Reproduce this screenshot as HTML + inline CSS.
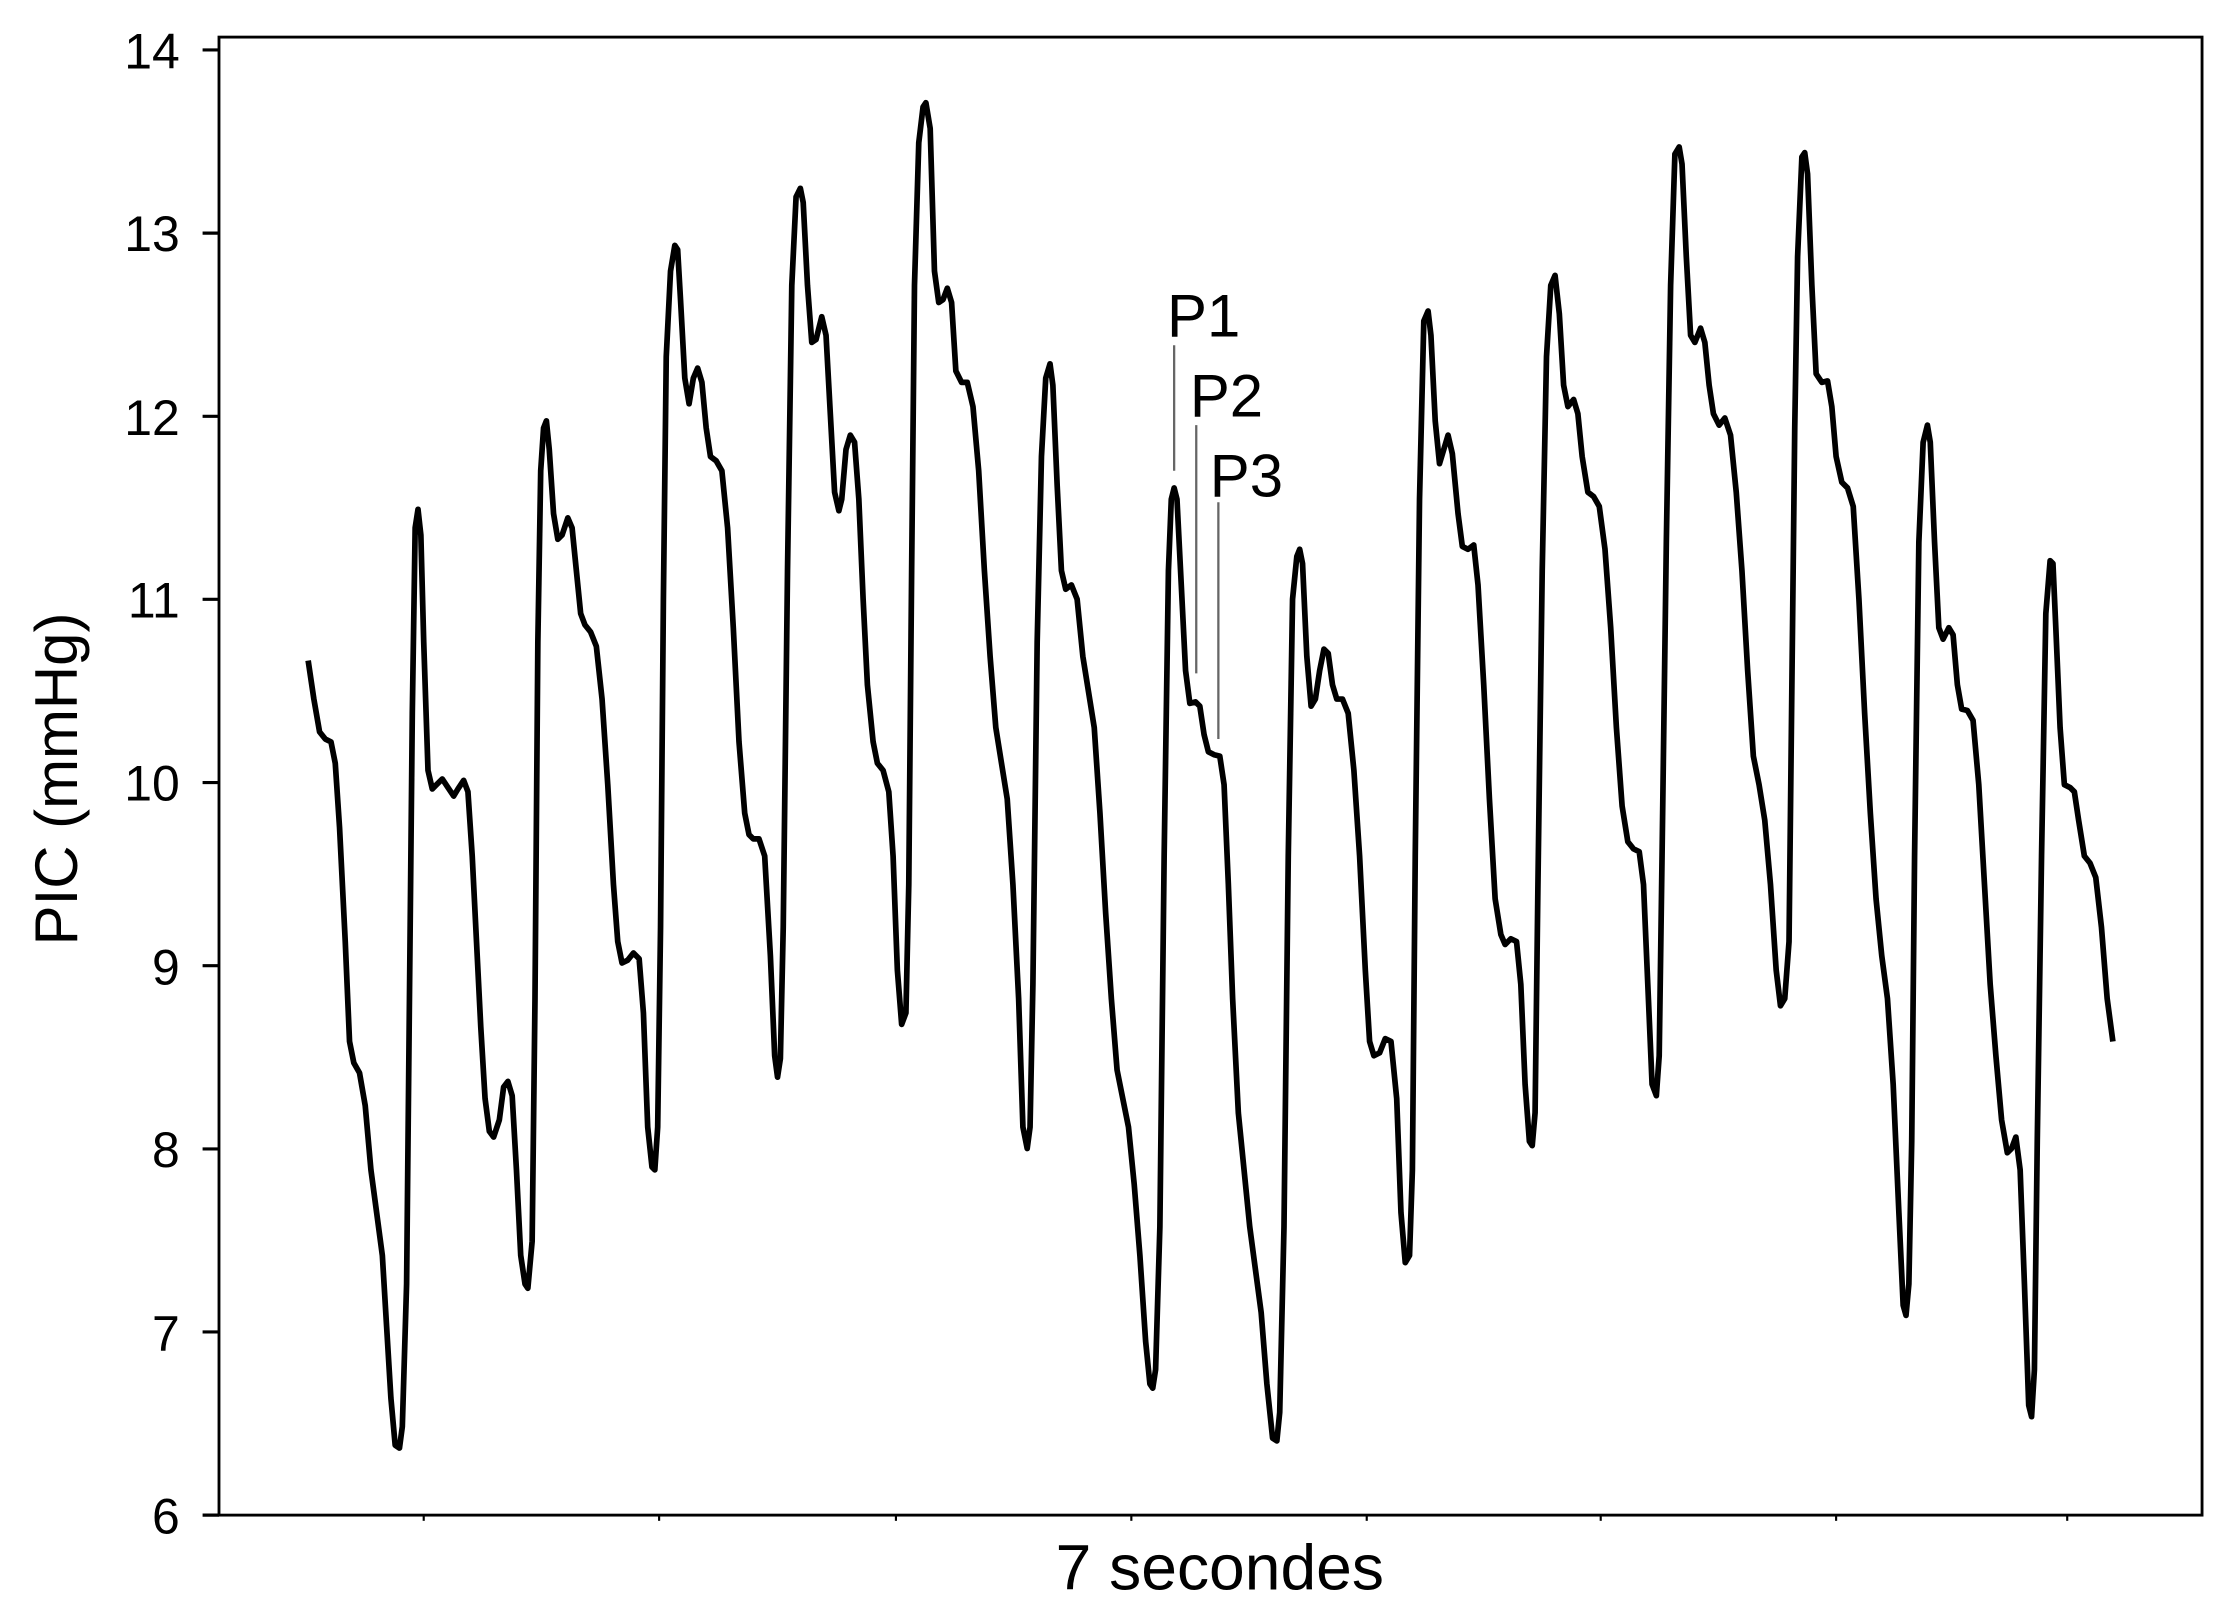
<!DOCTYPE html>
<html><head><meta charset="utf-8"><style>
html,body{margin:0;padding:0;background:#fff;}
svg{display:block;}
text{font-family:"Liberation Sans","DejaVu Sans",sans-serif;fill:#000;}
</style></head><body>
<svg width="2237" height="1609" viewBox="0 0 1568 1127.8" xmlns="http://www.w3.org/2000/svg">
<rect x="0" y="0" width="1568" height="1127.8" fill="#fff"/>
<rect x="153.5" y="26" width="1390" height="1036" fill="none" stroke="#000" stroke-width="2"/>
<g stroke="#000" stroke-width="2.2">
<line x1="142" y1="35" x2="153.5" y2="35"/>
<line x1="142" y1="163.4" x2="153.5" y2="163.4"/>
<line x1="142" y1="291.8" x2="153.5" y2="291.8"/>
<line x1="142" y1="420.1" x2="153.5" y2="420.1"/>
<line x1="142" y1="548.5" x2="153.5" y2="548.5"/>
<line x1="142" y1="676.9" x2="153.5" y2="676.9"/>
<line x1="142" y1="805.3" x2="153.5" y2="805.3"/>
<line x1="142" y1="933.6" x2="153.5" y2="933.6"/>
<line x1="142" y1="1062" x2="153.5" y2="1062"/>
</g>
<g stroke="#000" stroke-width="1.5">
<line x1="297" y1="1062" x2="297" y2="1066"/>
<line x1="462" y1="1062" x2="462" y2="1066"/>
<line x1="628" y1="1062" x2="628" y2="1066"/>
<line x1="793" y1="1062" x2="793" y2="1066"/>
<line x1="958" y1="1062" x2="958" y2="1066"/>
<line x1="1122" y1="1062" x2="1122" y2="1066"/>
<line x1="1287" y1="1062" x2="1287" y2="1066"/>
<line x1="1449" y1="1062" x2="1449" y2="1066"/>
</g>
<g font-size="37" text-anchor="end" font-family="DejaVu Sans, sans-serif" style="font-family:'DejaVu Sans',sans-serif;font-size:35px">
<text x="126" y="48">14</text>
<text x="126" y="176">13</text>
<text x="126" y="305">12</text>
<text x="126" y="433">11</text>
<text x="126" y="561">10</text>
<text x="126" y="690">9</text>
<text x="126" y="818">8</text>
<text x="126" y="947">7</text>
<text x="126" y="1075">6</text>
</g>
<text x="855" y="1114" font-size="45" text-anchor="middle">7 secondes</text>
<text transform="translate(54,546) rotate(-90)" font-size="42" text-anchor="middle">PIC (mmHg)</text>
<g stroke="#666" stroke-width="1.6">
<line x1="823" y1="242" x2="823" y2="330"/>
<line x1="838.5" y1="298" x2="838.5" y2="472"/>
<line x1="854" y1="352" x2="854" y2="518"/>
</g>
<g font-size="42">
<text x="818" y="236">P1</text>
<text x="834" y="292">P2</text>
<text x="848" y="348">P3</text>
</g>
<polyline fill="none" stroke="#000" stroke-width="4" stroke-linejoin="round" stroke-linecap="butt" points="216,463 220,490 224,513 228,518 232,520 235,535 238,580 242,660 245,730 248,745 252,752 256,775 260,820 264,850 268,880 271,930 274,980 277,1013 280,1015 282,1000 285,900 287,700 289,500 291,370 293,357 295,375 297,450 300,540 303,553 306,550 310,546 314,552 318,558 321,553 325,547 328,555 331,600 334,660 337,720 340,770 343,793 346,797 350,785 353,762 356,758 359,768 362,820 365,880 368,900 370,903 373,870 375,700 377,450 379,330 381,300 383,295 385,315 388,360 391,378 394,375 398,363 401,370 404,400 407,430 410,438 414,443 418,453 422,490 426,550 430,620 433,660 436,675 440,673 444,668 448,672 451,710 454,790 457,818 459,820 461,790 463,650 465,420 467,250 470,190 473,172 475,175 477,210 480,265 483,283 486,265 489,258 492,268 495,300 498,320 502,323 506,330 510,370 514,440 518,520 522,570 525,585 528,588 532,588 536,600 540,670 543,740 545,755 547,742 549,650 552,400 555,200 558,138 561,132 563,142 566,200 569,240 572,238 576,222 579,235 582,290 585,345 588,358 590,350 593,315 596,305 599,310 602,350 605,420 608,480 612,520 615,535 619,540 623,555 626,600 629,680 632,718 635,710 637,620 639,400 641,200 644,100 647,75 649,72 652,90 655,190 658,212 661,210 664,202 667,212 670,260 674,268 678,268 682,285 686,330 690,400 694,460 698,510 702,535 706,560 710,620 714,700 717,790 720,805 722,790 724,690 727,450 730,320 733,265 736,255 738,270 741,340 744,400 747,413 751,410 755,420 759,460 763,485 767,510 771,570 775,640 779,700 783,750 787,770 791,790 795,830 799,880 803,940 806,970 808,973 810,960 813,860 816,600 819,400 821,350 823,342 825,350 828,410 831,470 834,493 838,492 841,495 844,515 847,527 851,529 855,530 858,550 861,620 864,700 868,780 872,820 876,860 880,890 884,920 888,970 892,1008 895,1010 897,990 900,860 903,600 906,420 909,390 911,385 913,395 916,460 919,495 922,490 925,470 928,455 931,458 934,480 937,490 941,490 945,500 949,540 953,600 957,680 960,730 963,740 967,738 971,728 975,730 979,770 982,850 985,885 988,880 990,820 992,600 995,350 998,225 1001,218 1003,235 1006,295 1009,325 1012,315 1015,305 1018,318 1022,360 1025,383 1029,385 1033,382 1036,410 1040,480 1044,560 1048,630 1052,655 1055,662 1059,658 1063,660 1066,690 1069,760 1072,800 1074,803 1076,780 1078,620 1081,400 1084,250 1087,200 1090,193 1093,220 1096,270 1099,285 1103,280 1106,290 1109,320 1113,345 1117,348 1121,355 1125,385 1129,440 1133,510 1137,565 1141,590 1145,595 1149,597 1152,620 1155,690 1158,760 1161,768 1163,740 1165,600 1168,380 1171,200 1174,108 1177,103 1179,115 1182,180 1185,235 1188,240 1192,230 1195,240 1198,270 1201,290 1205,298 1209,293 1213,305 1217,345 1221,400 1225,470 1229,530 1233,550 1237,575 1241,620 1245,680 1248,705 1251,700 1254,660 1256,480 1258,300 1260,180 1263,110 1265,107 1267,122 1270,200 1273,262 1277,268 1281,267 1284,285 1287,320 1291,338 1295,342 1299,355 1303,420 1307,500 1311,570 1315,630 1319,670 1323,700 1327,760 1331,850 1334,915 1336,922 1338,900 1340,800 1342,600 1345,380 1348,310 1351,298 1353,310 1356,380 1359,440 1362,448 1366,440 1369,445 1372,480 1375,497 1379,498 1383,505 1387,550 1391,620 1395,690 1399,740 1403,785 1407,808 1410,805 1413,797 1416,820 1419,900 1422,985 1424,993 1426,960 1428,800 1431,600 1434,430 1437,393 1439,395 1441,440 1444,510 1447,550 1451,552 1454,555 1457,575 1461,600 1465,605 1469,615 1473,650 1477,700 1481,730"/>
</svg>
</body></html>
